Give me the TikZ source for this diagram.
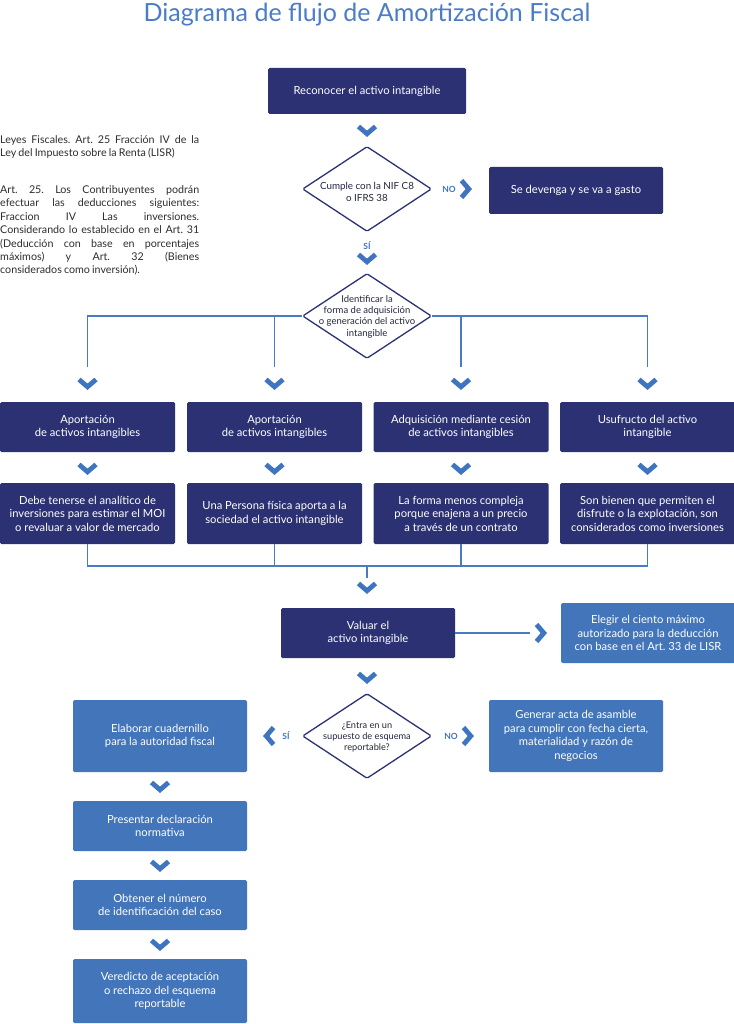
\documentclass[tikz,border=0pt]{standalone}
\usepackage{fontspec}
\setmainfont{Lato}
\usetikzlibrary{shapes.geometric,calc}
\definecolor{navy}{HTML}{2B3173}
\definecolor{midb}{HTML}{4275B9}
\definecolor{chevc}{HTML}{3F75C0}
\definecolor{titc}{HTML}{4A7CC8}
\definecolor{lnc}{HTML}{4A7BC2}
\definecolor{bodyc}{HTML}{2E2E2E}
\definecolor{diac}{HTML}{23263F}
\hfuzz=8pt
\frenchspacing
\newcommand\tightsp{\frenchspacing\spaceskip=0.2em plus 1em minus 0.03em\relax}
\tikzset{
  dbox/.style={rectangle, rounded corners=1.5pt, fill=navy, text=white, align=center,
    font=\fontsize{11.2}{13.5}\selectfont, inner sep=0pt, minimum width=175pt},
  lbox/.style={dbox, fill=midb},
  dia/.style={diamond, draw=navy, line width=1.3pt, fill=white, inner sep=0pt,
    minimum width=129pt, minimum height=85pt, rounded corners=1.5pt},
  diat/.style={align=center, text=diac, inner sep=0pt},
  ln/.style={draw=lnc, line width=1.2pt},
  chev/.style={draw=chevc, line width=4.8pt, miter limit=10},
  yn/.style={text=chevc, font=\fontsize{8.5}{9}\selectfont\bfseries, inner sep=0pt},
  ltext/.style={anchor=north west, inner sep=0pt, text width=199pt, align=justify, text=bodyc,
    font=\fontsize{10.7}{13.4}\selectfont},
  pics/chevd/.style={code={\draw[chev] (-8.5,-3.5) -- (0,3.8) -- (8.5,-3.5);}},
  pics/chevr/.style={code={\draw[chev] (-3.5,-8.5) -- (3.8,0) -- (-3.5,8.5);}},
  pics/chevl/.style={code={\draw[chev] (3.5,-8.5) -- (-3.8,0) -- (3.5,8.5);}},
}
\begin{document}
\begin{tikzpicture}[x=1pt,y=-1pt]
\useasboundingbox (0,0) rectangle (733,1024);
\fill[white] (0,0) rectangle (733,1024);

% title
\node[text=titc, font=\fontsize{25}{30}\selectfont, anchor=base, inner sep=0pt] (title) at (367,22)
  {Diagrama de flujo de Amortización Fiscal};

% left text
\node[ltext] (lt1) at (0,135.5)
  {\tightsp Leyes Fiscales. Art. 25 Fracción IV de la\linebreak Ley del Impuesto sobre la Renta (LISR)};
\node[ltext] (lt2) at (0,185.5)
  {\tightsp Art. 25. Los Contribuyentes podrán\linebreak efectuar las deducciones siguientes:\linebreak
   Fraccion IV Las inversiones.\linebreak Considerando lo establecido en el Art. 31\linebreak
   (Deducción con base en porcentajes\linebreak máximos) y Art. 32 (Bienes\linebreak
   considerados como inversión).};

% top
\node[dbox, minimum width=198pt, minimum height=46pt] (b1) at (367,91) {Reconocer el activo intangible};
\node[dia] (d1) at (367,189) {};
\node[diat, font=\fontsize{9.8}{11.6}\selectfont] (d1t) at (367,192) {Cumple con la NIF C8\\o IFRS 38};
\node[dbox, minimum width=174pt, minimum height=47pt] (dev) at (576,190.5) {Se devenga y se va a gasto};
\node[yn] (no1) at (449,189) {NO};
\node[yn] (si1) at (367,246) {SÍ};

\node[dia] (d2) at (367,316) {};
\node[diat, font=\fontsize{9.5}{11.3}\selectfont] (d2t) at (367,316.5) {Identificar la\\forma de adquisición\\o generación del activo\\intangible};

% branches
\coordinate (e1) at (87.5,367);
\coordinate (e2) at (274.5,367);
\coordinate (e3) at (461,367);
\coordinate (e4) at (647.5,367);
\draw[ln] (d2.west) -| (e1);
\draw[ln] (d2.east) -| (e4);
\draw[ln] (e2 |- d2.west) -- (e2);
\draw[ln] (e3 |- d2.east) -- (e3);

\node[dbox, minimum height=50pt] (r1a) at (87.5,427) {Aportación\\de activos intangibles};
\node[dbox, minimum height=50pt] (r1b) at (274.5,427) {Aportación\\de activos intangibles};
\node[dbox, minimum height=50pt] (r1c) at (461,427) {Adquisición mediante cesión\\de activos intangibles};
\node[dbox, minimum height=50pt] (r1d) at (647.5,427) {Usufructo del activo\\intangible};

\node[dbox, minimum height=61pt] (r2a) at (87.5,513.5) {Debe tenerse el analítico de\\inversiones para estimar el MOI\\o revaluar a valor de mercado};
\node[dbox, minimum height=61pt] (r2b) at (274.5,513.5) {Una Persona física aporta a la\\sociedad el activo intangible};
\node[dbox, minimum height=61pt] (r2c) at (461,513.5) {La forma menos compleja\\porque enajena a un precio\\a través de un contrato};
\node[dbox, minimum height=61pt] (r2d) at (647.5,513.5) {Son bienen que permiten el\\disfrute o la explotación, son\\considerados como inversiones};

% bus
\coordinate (bus) at (367,566);
\coordinate (busend) at (367,578);
\draw[ln] (r2a.south) |- (r2d.south |- bus) -- (r2d.south);
\draw[ln] (r2b.south) -- (r2b.south |- bus);
\draw[ln] (r2c.south) -- (r2c.south |- bus);
\draw[ln] (bus) -- (busend);

\node[dbox, minimum width=174pt, minimum height=50pt] (val) at (368,633) {Valuar el\\activo intangible};
\node[lbox, minimum width=174pt, minimum height=60pt] (eleg) at (648,633) {Elegir el ciento máximo\\autorizado para la deducción\\con base en el Art. 33 de LISR};
\coordinate (vend) at (530,633);
\draw[ln] (val.east) -- (vend);

\node[dia] (d3) at (367,736) {};
\node[diat, font=\fontsize{9.2}{10.7}\selectfont] (d3t) at (367,737) {¿Entra en un\\supuesto de esquema\\reportable?};
\node[yn] (si2) at (286,736) {SÍ};
\node[yn] (no2) at (451,736) {NO};

\node[lbox, minimum width=174pt, minimum height=72pt] (elab) at (160,736) {Elaborar cuadernillo\\para la autoridad fiscal};
\node[lbox, minimum width=174pt, minimum height=72pt] (gen) at (576,736) {Generar acta de asamble\\para cumplir con fecha cierta,\\materialidad y razón de\\negocios};
\node[lbox, minimum width=174pt, minimum height=50pt] (pres) at (160,826) {Presentar declaración\\normativa};
\node[lbox, minimum width=174pt, minimum height=50pt] (obt) at (160,905) {Obtener el número\\de identificación del caso};
\node[lbox, minimum width=174pt, minimum height=64pt] (ver) at (160,991) {Veredicto de aceptación\\o rechazo del esquema\\reportable};

% chevrons
\pic at (367,130) {chevd};
\pic at (367,258) {chevd};
\foreach \x in {87.5,274.5,461,647.5} {
  \pic at (\x,383) {chevd};
  \pic at (\x,468) {chevd};
}
\pic at (367,587) {chevd};
\pic at (367,677) {chevd};
\pic at (160,786) {chevd};
\pic at (160,865) {chevd};
\pic at (160,944) {chevd};
\pic at (465,189) {chevr};
\pic at (540,633) {chevr};
\pic at (467,736) {chevr};
\pic at (270,736) {chevl};
\end{tikzpicture}
\end{document}
